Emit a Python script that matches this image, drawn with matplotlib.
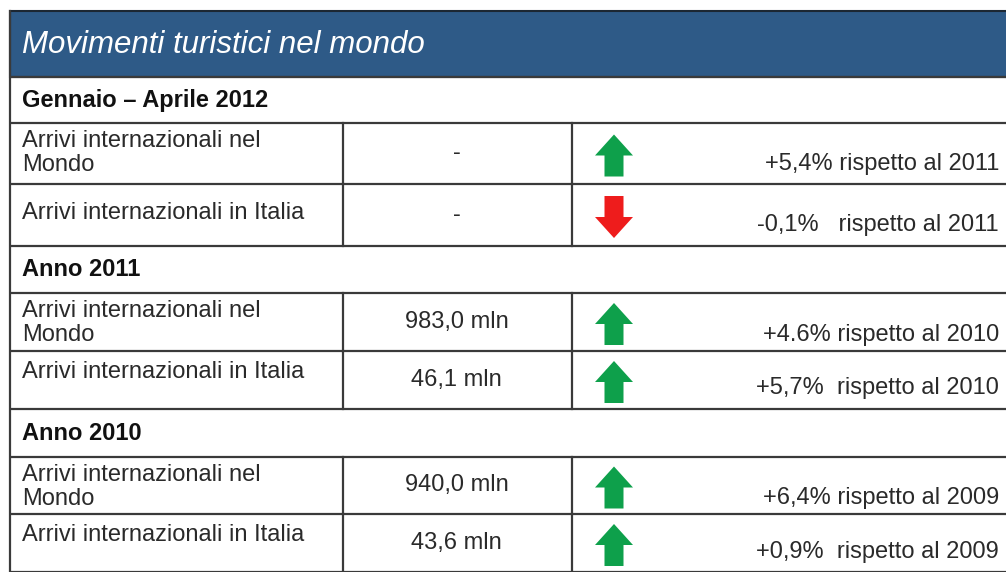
import matplotlib
matplotlib.use("Agg")
import matplotlib.pyplot as plt
from matplotlib.patches import Rectangle, Polygon

# ---- data ----
title = "Movimenti turistici nel mondo"
sections = ["Gennaio – Aprile 2012", "Anno 2011", "Anno 2010"]
row_labels = ["Arrivi internazionali nel\nMondo", "Arrivi internazionali in Italia",
              "Arrivi internazionali nel\nMondo", "Arrivi internazionali in Italia",
              "Arrivi internazionali nel\nMondo", "Arrivi internazionali in Italia"]
arrivals = ["-", "-", "983,0 mln", "46,1 mln", "940,0 mln", "43,6 mln"]
changes = [5.4, -0.1, 4.6, 5.7, 6.4, 0.9]
change_labels = ["+5,4% rispetto al 2011", "-0,1%   rispetto al 2011",
                 "+4.6% rispetto al 2010", "+5,7%  rispetto al 2010",
                 "+6,4% rispetto al 2009", "+0,9%  rispetto al 2009"]

# ---- layout (pixel coordinates) ----
W, H = 1006, 572
left, right = 10, 1010
col_x = [343, 572]
edges = [11, 77, 123, 184, 246, 293, 351, 409, 457, 514, 572]
label_off = [18, 29, 18, 21, 18, 21]      # first-line centre offset from cell top
right_off = [20, 21, 16, 21, 16, 20]      # right text centre offset from cell bottom
FONT = "Liberation Sans"
FS = 17
TXT = "#2a2a2a"
LINE = "#3a3a3a"

fig = plt.figure(figsize=(W / 100, H / 100), dpi=100)
ax = fig.add_axes([0, 0, 1, 1])
ax.set_xlim(0, W)
ax.set_ylim(H, 0)
ax.axis("off")

# title bar
ax.add_patch(Rectangle((left, edges[0]), right - left, edges[1] - edges[0],
                       facecolor="#2e5a87", edgecolor="#1c2733", lw=1.5, zorder=2))
ax.text(22, (edges[0] + edges[1]) / 2 + 1, title, color="white", fontsize=22.5,
        style="italic", family=FONT, va="center", ha="left", zorder=3)

# horizontal lines
for y in edges[1:]:
    ax.plot([left, right], [y, y], color=LINE, lw=1.6, zorder=2, solid_capstyle="butt")
ax.plot([left, left], [edges[0], edges[-1] + 5], color=LINE, lw=1.6, zorder=2)

def arrow(cx, cy, up, color, h=42, w=38, sw=19, hh=21):
    s = -1 if up else 1
    tip = cy + s * h / 2
    base = cy - s * h / 2
    neck = tip - s * hh
    pts = [(cx, tip), (cx - w / 2, neck), (cx - sw / 2, neck), (cx - sw / 2, base),
           (cx + sw / 2, base), (cx + sw / 2, neck), (cx + w / 2, neck)]
    ax.add_patch(Polygon(pts, closed=True, facecolor=color, edgecolor="none", zorder=3))

for si, sec in enumerate(sections):
    top = edges[1 + si * 3]
    bot = edges[2 + si * 3]
    ax.text(22, (top + bot) / 2, sec, fontsize=17, fontweight="bold", family=FONT,
            color="#111111", va="center", ha="left", zorder=3)
    for k in range(2):
        r = si * 2 + k
        t = edges[2 + si * 3 + k]
        b = edges[3 + si * 3 + k]
        for x in col_x:
            ax.plot([x, x], [t, b], color=LINE, lw=1.6, zorder=2)
        for li, ln in enumerate(row_labels[r].split("\n")):
            ax.text(22, t + label_off[r] + li * 24, ln, fontsize=FS, family=FONT,
                    color=TXT, va="center", ha="left", zorder=3)
        ax.text((col_x[0] + col_x[1]) / 2 - 1, (t + b) / 2, arrivals[r], fontsize=FS,
                family=FONT, color=TXT, va="center", ha="center", zorder=3)
        up = changes[r] >= 0
        arrow(614, (t + b) / 2 + 2, up, "#0ea04b" if up else "#ee1c1c")
        ax.text(999, b - right_off[r], change_labels[r], fontsize=FS, family=FONT,
                color=TXT, va="center", ha="right", zorder=3)

fig.savefig("out.png", dpi=100, facecolor="white")
